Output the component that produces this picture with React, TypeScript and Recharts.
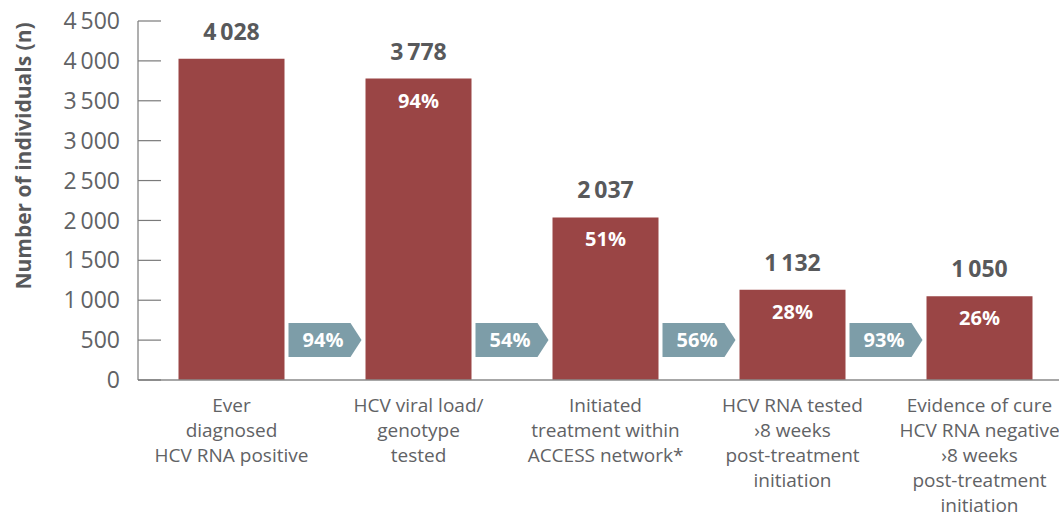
import React from 'react';
import { BarChart, Bar, XAxis, YAxis, LabelList, Label } from 'recharts';

const categories = [
  'Ever\ndiagnosed\nHCV RNA positive',
  'HCV viral load/\ngenotype\ntested',
  'Initiated\ntreatment within\nACCESS network*',
  'HCV RNA tested\n\u203A8 weeks\npost-treatment\ninitiation',
  'Evidence of cure\nHCV RNA negative\n\u203A8 weeks\npost-treatment\ninitiation',
];
const counts = [4028, 3778, 2037, 1132, 1050];
const countLabels = ['4\u2009028', '3\u2009778', '2\u2009037', '1\u2009132', '1\u2009050'];
const cumulativePct = ['', '94%', '51%', '28%', '26%'];
const stepPct = ['', '94%', '54%', '56%', '93%'];
const yTicks = [0, 500, 1000, 1500, 2000, 2500, 3000, 3500, 4000, 4500];
const yTickLabels = ['0', '500', '1\u2009000', '1\u2009500', '2\u2009000', '2\u2009500', '3\u2009000', '3\u2009500', '4\u2009000', '4\u2009500'];
const ARROW_LEVEL = 500;

const data = categories.map((c, i) => ({
  name: c,
  value: counts[i],
  countLabel: countLabels[i],
  pct: cumulativePct[i],
  step: stepPct[i],
}));

const FONT = '"Open Sans", "Noto Sans", sans-serif';
const BAR_COLOR = '#9a4545';
const ARROW_COLOR = '#7d9da8';
const TEXT_COLOR = '#58595b';
const TICK_COLOR = '#616265';
const AXIS_COLOR = '#7a7a7a';
const GAP = 0.2166;

const YTick = (props: any) => {
  const { x, y, index } = props;
  return (
    <g>
      <line x1={x + 18} x2={x + 41} y1={y} y2={y} stroke={AXIS_COLOR} strokeWidth={1.2} />
      <text x={x} y={y} dy="0.355em" textAnchor="end" fill={TICK_COLOR} fontSize={23} fontFamily={FONT}>
        {yTickLabels[index]}
      </text>
    </g>
  );
};

const XTick = (props: any) => {
  const { x, y, payload } = props;
  const lines = String(payload.value).split('\n');
  return (
    <text x={x} y={y} textAnchor="middle" fill={TICK_COLOR} fontSize={19} fontFamily={FONT}>
      {lines.map((l, i) => (
        <tspan key={i} x={x} dy={i === 0 ? 32 : 25}>{l}</tspan>
      ))}
    </text>
  );
};

const CountLabel = (props: any) => {
  const { x, y, width, value } = props;
  return (
    <text x={Number(x) + Number(width) / 2} y={Number(y) - 19} textAnchor="middle" fill={TEXT_COLOR}
      fontSize={23} fontWeight={700} fontFamily={FONT}>
      {value}
    </text>
  );
};

const PctLabel = (props: any) => {
  const { x, y, width, value } = props;
  if (!value) return null;
  return (
    <text x={Number(x) + Number(width) / 2} y={Number(y) + 29} textAnchor="middle" fill="#ffffff"
      fontSize={20} fontWeight={700} fontFamily={FONT}>
      {value}
    </text>
  );
};

const ArrowLabel = (props: any) => {
  const { x, y, width, height, value, index } = props;
  if (!value) return null;
  const X = Number(x), Y = Number(y), W = Number(width), H = Number(height);
  const base = Y + H;
  const cy = base - (ARROW_LEVEL * H) / counts[index];
  const cx = X - (W * GAP) / (1 - 2 * GAP);
  const hw = 36.5, hh = 17, tip = 11;
  const path = `M${cx - hw},${cy - hh} L${cx + hw - tip},${cy - hh} L${cx + hw},${cy} L${cx + hw - tip},${cy + hh} L${cx - hw},${cy + hh} Z`;
  return (
    <g>
      <path d={path} fill={ARROW_COLOR} />
      <text x={cx - 2} y={cy + 7} textAnchor="middle" fill="#ffffff" fontSize={20} fontWeight={700} fontFamily={FONT}>
        {value}
      </text>
    </g>
  );
};

const YTitle = (props: any) => {
  const vb = props.viewBox || {};
  const cx = Number(vb.x) + 23;
  const cy = Number(vb.y) + 135;
  return (
    <text x={cx} y={cy} transform={`rotate(-90, ${cx}, ${cy})`} textAnchor="middle" dominantBaseline="central"
      fill={TEXT_COLOR} fontSize={21} fontWeight={700} fontFamily={FONT}>
      Number of individuals (n)
    </text>
  );
};

export default function App() {
  return (
    <div style={{ position: 'absolute', left: 0, top: 0, width: 1059, height: 515, overflow: 'hidden', background: '#fff' }}>
      <BarChart width={1080} height={515} data={data} margin={{ top: 21, right: 7, left: 0, bottom: 0 }}
        barCategoryGap={`${GAP * 100}%`}>
        <XAxis dataKey="name" interval={0} tickLine={false} tickSize={0} tickMargin={0} height={135}
          axisLine={{ stroke: '#8a8a8a', strokeWidth: 1.5 }} tick={<XTick />} />
        <YAxis type="number" domain={[0, 4500]} ticks={yTicks} interval={0} width={138} tickLine={false}
          tickSize={0} tickMargin={18} axisLine={{ stroke: AXIS_COLOR, strokeWidth: 1.2 }} tick={<YTick />}>
          <Label content={<YTitle />} />
        </YAxis>
        <Bar dataKey="value" fill={BAR_COLOR} isAnimationActive={false}>
          <LabelList dataKey="countLabel" content={<CountLabel />} />
          <LabelList dataKey="pct" content={<PctLabel />} />
          <LabelList dataKey="step" content={<ArrowLabel />} />
        </Bar>
      </BarChart>
    </div>
  );
}
